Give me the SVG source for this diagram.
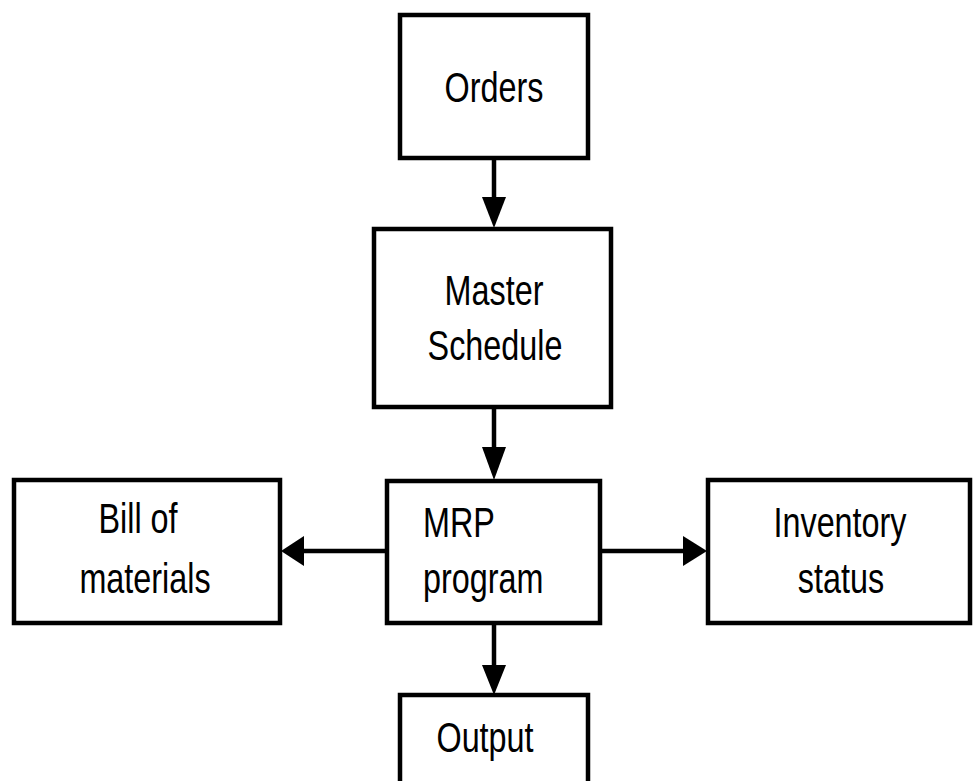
<svg xmlns="http://www.w3.org/2000/svg" width="973" height="781" viewBox="0 0 973 781">
  <style>
    .box { fill: #ffffff; stroke: #000000; stroke-width: 4.5; }
    .lbl { font-family: "Liberation Sans", Arial, sans-serif; font-size: 42px; fill: #000000; text-anchor: middle; }
    .lbl-left { text-anchor: start; }
    .wire { stroke: #000000; stroke-width: 4.5; fill: none; }
    .head { fill: #000000; stroke: none; }
  </style>
  <rect width="973" height="781" fill="#ffffff"/>

  <!-- connectors -->
  <g id="connectors">
    <line class="wire" x1="494" y1="158" x2="494" y2="200"/>
    <polygon class="head" points="482,197 506,197 494,228"/>

    <line class="wire" x1="494" y1="407" x2="494" y2="450"/>
    <polygon class="head" points="482,447 506,447 494,480"/>

    <line class="wire" x1="386" y1="551" x2="300" y2="551"/>
    <polygon class="head" points="304,536 304,566 281,551"/>

    <line class="wire" x1="600" y1="551" x2="685" y2="551"/>
    <polygon class="head" points="683,536 683,566 707,551"/>

    <line class="wire" x1="494" y1="623" x2="494" y2="668"/>
    <polygon class="head" points="482,665 506,665 494,695"/>
  </g>

  <!-- nodes -->
  <g id="orders">
    <rect class="box" x="400" y="15" width="188" height="143"/>
    <text class="lbl" transform="translate(494,102) scale(0.77,1)">Orders</text>
  </g>

  <g id="master-schedule">
    <rect class="box" x="374" y="229" width="237" height="178"/>
    <text class="lbl" transform="translate(494,305) scale(0.77,1)">Master</text>
    <text class="lbl" transform="translate(495,360) scale(0.77,1)">Schedule</text>
  </g>

  <g id="mrp-program">
    <rect class="box" x="387" y="481" width="213" height="142"/>
    <text class="lbl lbl-left" transform="translate(423,537) scale(0.77,1)">MRP</text>
    <text class="lbl lbl-left" transform="translate(423,593) scale(0.77,1)">program</text>
  </g>

  <g id="bill-of-materials">
    <rect class="box" x="14" y="480" width="266" height="143"/>
    <text class="lbl" transform="translate(138,533) scale(0.77,1)">Bill of</text>
    <text class="lbl" transform="translate(145,593) scale(0.77,1)">materials</text>
  </g>

  <g id="inventory-status">
    <rect class="box" x="708" y="480" width="262" height="143"/>
    <text class="lbl" transform="translate(840,537) scale(0.77,1)">Inventory</text>
    <text class="lbl" transform="translate(841,593) scale(0.77,1)">status</text>
  </g>

  <g id="output">
    <rect class="box" x="400" y="695" width="188" height="120"/>
    <text class="lbl" transform="translate(485,752) scale(0.77,1)">Output</text>
  </g>
</svg>
